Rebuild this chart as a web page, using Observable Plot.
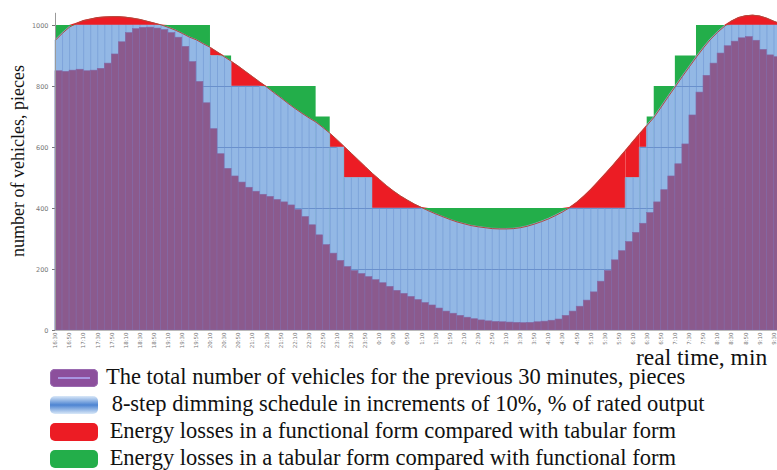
<!DOCTYPE html>
<html><head><meta charset="utf-8">
<script src="https://cdn.jsdelivr.net/npm/d3@7"></script>
<script src="https://cdn.jsdelivr.net/npm/@observablehq/plot@0.6"></script>
<style>
body{margin:0;background:#fff;}
#wrap{position:relative;width:777px;height:470px;overflow:hidden;font-family:"Liberation Serif","Times New Roman",serif;color:#111;}
#chart{position:absolute;left:0;top:0;}
#chart g[aria-label="x-axis tick label"]{font-size:5.5px;}
#xtitle{position:absolute;left:636px;top:343px;font-size:23.5px;line-height:28px;white-space:nowrap;}
.sw{position:absolute;left:50px;width:48px;height:18px;border-radius:5px;}
.lt{position:absolute;font-size:22.5px;line-height:28px;white-space:nowrap;}
</style></head>
<body><div id="wrap"><div id="chart"></div><div id="xtitle"></div></div>
<script>
// ---- data ----
const sampleMinutes = [0,10,20,30,40,50,60,70,80,90,100,110,120,130,140,150,160,170,180,190,200,210,220,230,240,250,260,270,280,290,300,310,320,330,340,350,360,370,380,390,400,410,420,430,440,450,460,470,480,490,500,510,520,530,540,550,560,570,580,590,600,610,620,630,640,650,660,670,680,690,700,710,720,730,740,750,760,770,780,790,800,810,820,830,840,850,860,870,880,890,900,910,920,930,940,950,960,970,980,990,1000,1010,1020,1030];
// functional (smooth) dimming form, scaled to 1000 = 100 %
const functionalForm = [952,975,995,1007,1016,1021,1026,1028,1029,1029,1027,1024,1020,1014,1008,1002,994,985,974,962,953,940,928,913,897,882,866,849,832,815,798,780,763,745,728,712,697,683,665,646,625,603,581,559,537,515,495,475,457,441,427,414,403,392,382,373,364,356,350,344,340,337,334,333,333,334,337,342,349,357,366,377,389,403,420,440,462,487,512,538,565,592,620,647,673,700,733,767,800,833,865,897,927,955,978,998,1015,1026,1032,1034,1031,1024,1014,1005];
// total number of vehicles for the previous 30 minutes
const vehicles = [850,848,852,855,850,852,858,875,905,945,975,988,992,993,990,985,975,960,930,880,815,745,660,578,530,505,485,468,455,445,438,428,420,410,395,372,345,312,280,252,228,208,195,185,175,165,155,143,130,120,110,100,90,82,72,62,55,48,42,37,33,30,28,27,26,25,24,25,27,29,32,36,48,62,78,98,125,160,195,230,260,290,320,350,385,420,460,505,545,610,705,780,835,875,908,932,947,958,962,950,920,902,896,893];
// tabular (8-step) form
const stepStarts = [0,220,250,370,390,410,450,810,830,840,850,880,910];
const stepLevels = [1000,900,800,700,600,500,400,500,600,700,800,900,1000];
const endMinute = 1030;
const tickMinutes = [0,20,40,60,80,100,120,140,160,180,200,220,240,260,280,300,320,340,360,380,400,420,440,460,480,500,520,540,560,580,600,620,640,660,680,700,720,740,760,780,800,820,840,860,880,900,920,940,960,980,1000,1020];
const tickLabels = ["16:30","16:50","17:10","17:30","17:50","18:10","18:30","18:50","19:10","19:30","19:50","20:10","20:30","20:50","21:10","21:30","21:50","22:10","22:30","22:50","23:10","23:30","23:50","0:10","0:30","0:50","1:10","1:30","1:50","2:10","2:30","2:50","3:10","3:30","3:50","4:10","4:30","4:50","5:10","5:30","5:50","6:10","6:30","6:50","7:10","7:30","7:50","8:10","8:30","8:50","9:10","9:30"];
const yTicks = [0,200,400,600,800,1000];
const gridLevels = [200,400,600,800];
const yTitle = "number of vehicles, pieces";
const xTitle = "real time, min";
const legendLabels = [
  "The total number of vehicles for the previous 30 minutes, pieces",
  " 8-step dimming schedule in increments of 10%, % of rated output",
  " Energy losses in a functional form compared with tabular form",
  " Energy losses in a tabular form compared with functional form"
];

// ---- styles ----
const PURPLE = "#8b5a8d", BLUE = "#93b8e5", RED = "#ec1c24", GREEN = "#23ae4a";

// ---- derived tables ----
const curveRows = sampleMinutes.map((t,i)=>({t, y: functionalForm[i]}));
const curveAt = new Map(curveRows.map(d=>[d.t,d.y]));
function stepAt(t){ let v = stepLevels[0]; stepStarts.forEach((a,k)=>{ if (t>=a) v = stepLevels[k]; }); return v; }
const segRows = [];
stepStarts.forEach((a,k)=>{
  const b = k+1 < stepStarts.length ? stepStarts[k+1] : endMinute;
  const lvl = stepLevels[k];
  for (const t of sampleMinutes) if (t>=a && t<=b) {
    const c = curveAt.get(t);
    segRows.push({seg:k, t, base:0, lvl, hi: Math.max(c,lvl), lo: Math.min(c,lvl)});
  }
});
const stepRows = stepStarts.map((a,k)=>({t:a, base:0, y:stepLevels[k]}))
  .concat([{t:endMinute, base:0, y:stepLevels[stepLevels.length-1]}]);
const blueTop = sampleMinutes.map((t,i)=>({t, base:0, y: Math.min(functionalForm[i], stepAt(t))}));
const gridRows = [];
for (const g of gridLevels) for (let i=0;i<sampleMinutes.length-1;i++){
  if (Math.min(blueTop[i].y, blueTop[i+1].y) >= g) gridRows.push({t1:sampleMinutes[i], t2:sampleMinutes[i+1], g});
}
const vehicleRows = sampleMinutes.map((t,i)=>({t1:t, t2:t+10, base:0, v: vehicles[i]}));
const labelOf = new Map(tickMinutes.map((t,i)=>[t, tickLabels[i]]));

const chart = Plot.plot({
  width: 777, height: 350, marginLeft: 55, marginRight: 0, marginTop: 25, marginBottom: 20,
  style: {fontSize: "6.5px", color: "#777", background: "transparent", overflow: "visible", fontFamily: "DejaVu Sans, sans-serif"},
  x: {domain:[0,1025], ticks: tickMinutes, tickFormat: d => labelOf.get(d), tickRotate: -90, tickSize: 0, tickPadding: 2, label: null},
  y: {domain:[0,1000], ticks: yTicks, tickFormat: d => String(d), tickSize: 3, tickPadding: 4, label: null},
  marks: [
    Plot.areaY(stepRows, {x:"t", y1:"base", y2:"y", curve:"step-after", fill: GREEN}),
    Plot.areaY(segRows, {x:"t", y1:"lvl", y2:"hi", z:"seg", fill: RED, curve:"linear"}),
    Plot.areaY(segRows, {x:"t", y1:"base", y2:"lo", z:"seg", fill: BLUE, stroke: BLUE, strokeWidth: 0.5}),
    Plot.ruleX(blueTop, {x:"t", y1:"base", y2:"y", stroke:"#7ea4da", strokeWidth: 1}),
    Plot.ruleY(gridRows, {y:"g", x1:"t1", x2:"t2", stroke:"#6990cc", strokeWidth: 1}),
    Plot.rectY(vehicleRows, {x1:"t1", x2:"t2", y1:"base", y2:"v", fill: PURPLE, stroke:"#8468a6", strokeWidth: 0.6}),
    Plot.line(curveRows, {x:"t", y:"y", stroke:"#b04a3c", strokeWidth: 1}),
    Plot.ruleX([0], {y1:0, y2:1040, stroke:"#9a9a9a"}),
    Plot.ruleY([0], {stroke:"#bbbbbb"}),
    Plot.text([yTitle], {frameAnchor:"left", textAnchor:"middle", dx:-37, dy:-17, rotate:-90, fontSize:18, fontFamily:"Liberation Serif", fill:"#111"})
  ]
});
document.getElementById("chart").appendChild(chart);
document.getElementById("xtitle").textContent = xTitle;

// legend
const wrap = document.getElementById("wrap");
const rowCenters = [378, 405, 432, 459];
const swatchStyles = [
  "background:#8c4f9c; box-shadow: inset 0 0 0 1px #9a6ab0;",
  "background:linear-gradient(#d9e8f8,#4d84d2 50%,#d9e8f8);",
  "background:" + RED + ";",
  "background:" + GREEN + ";"
];
const textLeft = [106, 106, 104, 104];
legendLabels.forEach((lab,i)=>{
  const sw = document.createElement("div");
  sw.className = "sw";
  sw.style.cssText = swatchStyles[i] + "top:" + (rowCenters[i]-9) + "px;";
  if (i === 0) {
    const ln = document.createElement("div");
    ln.style.cssText = "position:absolute;left:8px;right:8px;top:8px;height:2px;background:#a894e0;";
    sw.appendChild(ln);
  }
  wrap.appendChild(sw);
  const tx = document.createElement("div");
  tx.className = "lt";
  tx.style.cssText = "left:" + textLeft[i] + "px;top:" + (rowCenters[i]-15) + "px;white-space:pre;";
  tx.textContent = lab;
  wrap.appendChild(tx);
});
</script>
</body></html>
